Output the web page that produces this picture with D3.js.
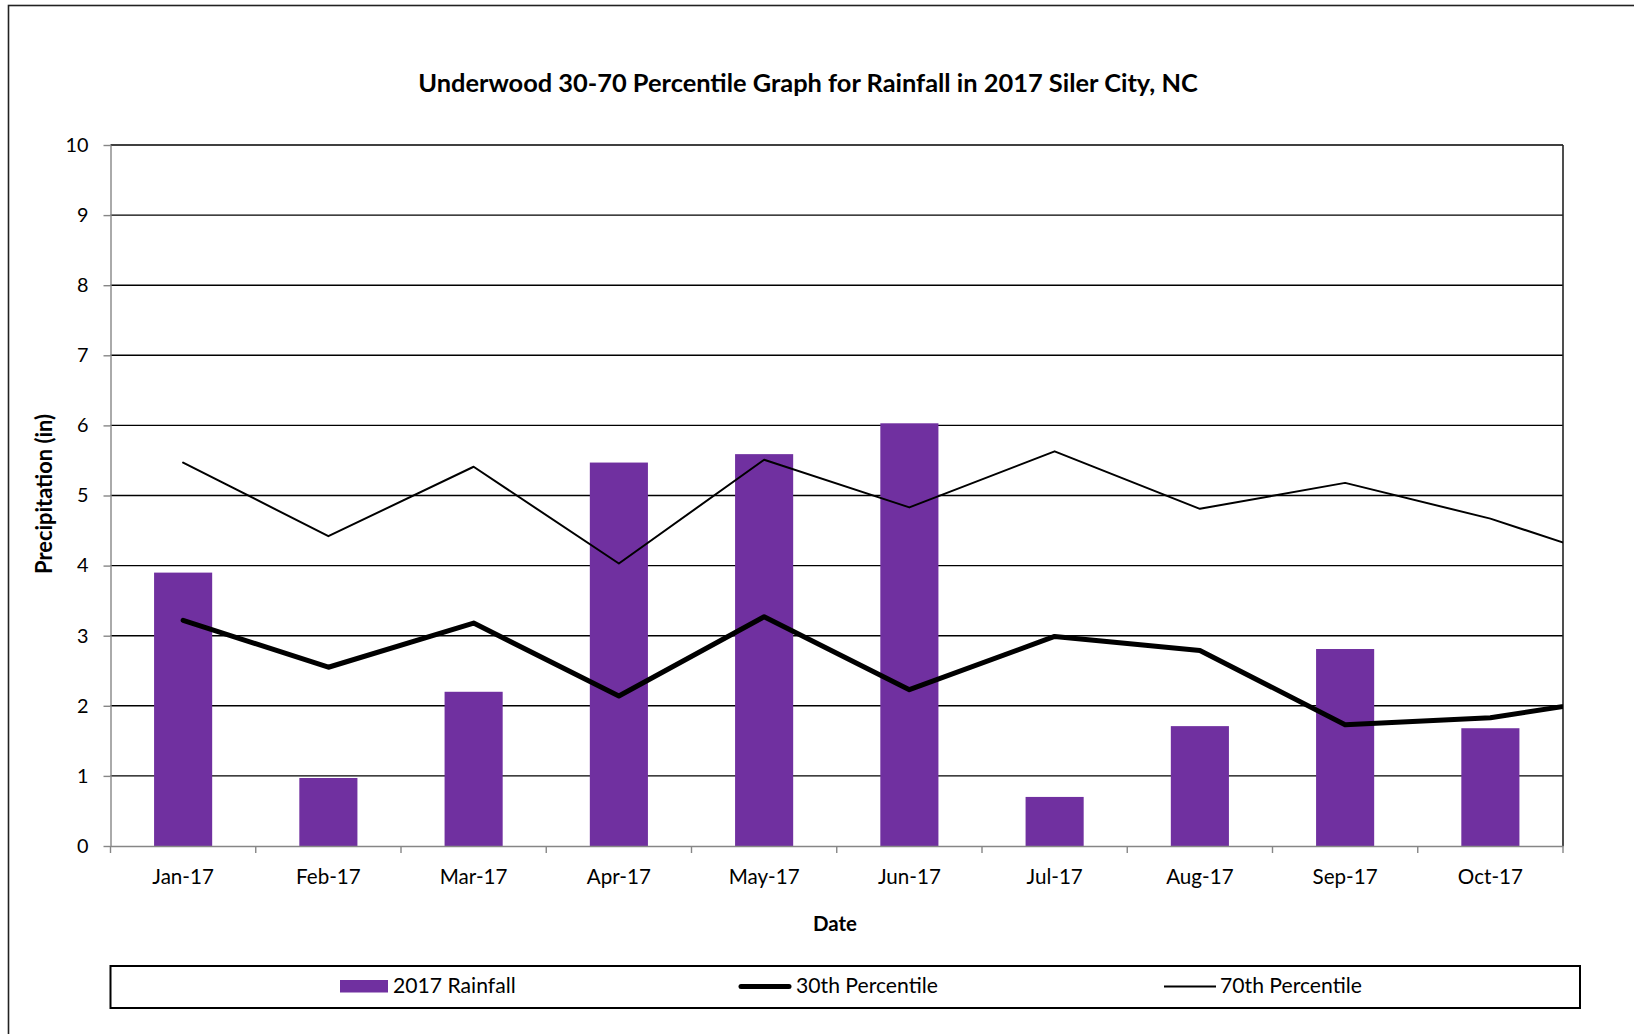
<!DOCTYPE html>
<html><head><meta charset="utf-8">
<script src="https://cdn.jsdelivr.net/npm/d3@7"></script>
<style>html,body{margin:0;padding:0;background:#fff;} svg{display:block;font-family:Lato,"Open Sans",sans-serif;}</style>
</head><body><svg id="chart" width="1634" height="1034"></svg>
<script>
// ---- data ----
const categories = ["Jan-17","Feb-17","Mar-17","Apr-17","May-17","Jun-17","Jul-17","Aug-17","Sep-17","Oct-17"];
const rainfall2017 = [3.90,0.97,2.20,5.47,5.59,6.03,0.70,1.71,2.81,1.68];
// last value of each percentile series belongs to the next month (Nov-17), beyond the axis and clipped
const pct30 = [3.22,2.55,3.18,2.14,3.27,2.23,2.99,2.79,1.73,1.83,2.15];
const pct70 = [5.47,4.42,5.41,4.03,5.51,4.83,5.63,4.81,5.18,4.67,3.99];
const yTicks = [0,1,2,3,4,5,6,7,8,9,10];
const titleText = "Underwood 30-70 Percentile Graph for Rainfall in 2017 Siler City, NC";
const xTitle = "Date", yTitle = "Precipitation (in)";
const legendLabels = ["2017 Rainfall","30th Percentile","70th Percentile"];

// ---- layout ----
const W = 1634, H = 1034;
const P = {left:110.5, right:1563, top:145, bottom:846};
const BAR = "#7030A0", AXIS = "#868686";
const svg = d3.select("#chart");
svg.append("rect").attr("width",W).attr("height",H).attr("fill","#fff");
svg.append("rect").attr("x",8.5).attr("y",5.5).attr("width",1700).attr("height",1100)
  .attr("fill","none").attr("stroke","#222").attr("stroke-width",1.6);

function fit(sel, target){
  const base = 20;
  sel.attr("font-size", base);
  const len = sel.node().getComputedTextLength();
  const fs = base*target/len;
  sel.attr("font-size", fs);
  return fs;
}

const x = d3.scaleBand().domain(categories).range([P.left,P.right]).paddingInner(0.6).paddingOuter(0.3);
const xi = d3.scaleLinear().domain([-0.5, categories.length-0.5]).range([P.left,P.right]);
const y = d3.scaleLinear().domain([0,10]).range([P.bottom,P.top]);

// gridlines
svg.append("g").selectAll("line").data(yTicks.filter(t=>t>0)).join("line")
  .attr("x1",P.left).attr("x2",P.right).attr("y1",d=>y(d)).attr("y2",d=>y(d))
  .attr("stroke","#000").attr("stroke-width",1.4);
svg.append("line").attr("x1",P.right).attr("x2",P.right).attr("y1",P.top).attr("y2",P.bottom)
  .attr("stroke","#222").attr("stroke-width",1.6);

// bars
svg.append("g").selectAll("rect").data(rainfall2017).join("rect")
  .attr("x",(d,i)=>x(categories[i])).attr("width",x.bandwidth())
  .attr("y",d=>y(d)).attr("height",d=>y(0)-y(d)).attr("fill",BAR);

// lines
svg.append("clipPath").attr("id","clip").append("rect")
  .attr("x",P.left-10).attr("y",P.top-10).attr("width",P.right-P.left+10).attr("height",P.bottom-P.top+20);
const line = d3.line().x((d,i)=>xi(i)).y(d=>y(d));
const lg = svg.append("g").attr("clip-path","url(#clip)");
lg.append("path").datum(pct70).attr("d",line).attr("fill","none").attr("stroke","#000")
  .attr("stroke-width",2).attr("stroke-linejoin","round").attr("stroke-linecap","round");
lg.append("path").datum(pct30).attr("d",line).attr("fill","none").attr("stroke","#000")
  .attr("stroke-width",5).attr("stroke-linejoin","round").attr("stroke-linecap","round");

// y axis
const ya = svg.append("g").attr("transform",`translate(${P.left},0)`)
  .call(d3.axisLeft(y).tickValues(yTicks).tickFormat(d3.format("d")).tickSizeInner(7).tickSizeOuter(0).tickPadding(15));
ya.selectAll("path,line").attr("stroke",AXIS).attr("stroke-width",1.4);
ya.selectAll("text").attr("fill","#000").attr("font-family","Lato, sans-serif");
const yfs = fit(ya.selectAll("text").filter(d=>d===10), 23);
ya.selectAll("text").attr("font-size",yfs);

// x axis
const xa = svg.append("g").attr("transform",`translate(0,${P.bottom})`)
  .call(d3.axisBottom(x).tickSize(0).tickPadding(0));
xa.select(".domain").attr("stroke",AXIS).attr("stroke-width",1.4);
xa.selectAll("text").attr("fill","#000").attr("dy",null).attr("y",38).attr("font-family","Lato, sans-serif");
const xfs = fit(xa.selectAll("text").filter(d=>d==="May-17"), 71);
xa.selectAll("text").attr("font-size",xfs);
svg.append("g").selectAll("line").data(d3.range(categories.length+1)).join("line")
  .attr("x1",d=>xi(d-0.5)).attr("x2",d=>xi(d-0.5)).attr("y1",P.bottom).attr("y2",P.bottom+7)
  .attr("stroke",AXIS).attr("stroke-width",1.4);

// titles
const t = svg.append("text").attr("x",808).attr("y",91.7).attr("text-anchor","middle")
  .attr("font-weight","bold").attr("fill","#000").text(titleText);
fit(t, 780);
const xt = svg.append("text").attr("x",835).attr("y",930.7).attr("text-anchor","middle")
  .attr("font-weight","bold").attr("fill","#000").text(xTitle);
fit(xt, 44);
const yt = svg.append("text").attr("transform","translate(52,494) rotate(-90)").attr("text-anchor","middle")
  .attr("font-weight","bold").attr("fill","#000").text(yTitle);
fit(yt, 160);

// legend
svg.append("rect").attr("x",110.5).attr("y",966).attr("width",1580-110.5).attr("height",42)
  .attr("fill","#fff").attr("stroke","#000").attr("stroke-width",2);
const leg = svg.append("g");
leg.append("rect").attr("x",340).attr("y",980).attr("width",48).attr("height",12.5).attr("fill",BAR);
leg.append("line").attr("x1",741).attr("x2",789).attr("y1",986.5).attr("y2",986.5)
  .attr("stroke","#000").attr("stroke-width",5).attr("stroke-linecap","round");
leg.append("line").attr("x1",1164).attr("x2",1216).attr("y1",986.5).attr("y2",986.5)
  .attr("stroke","#000").attr("stroke-width",2);
const legX = [393,796,1220];
const lt = leg.selectAll("text").data(legendLabels).join("text")
  .attr("x",(d,i)=>legX[i]).attr("y",993).attr("fill","#000").text(d=>d);
const lfs = fit(lt.filter(d=>d==="30th Percentile"), 142);
lt.attr("font-size",lfs);
</script></body></html>
